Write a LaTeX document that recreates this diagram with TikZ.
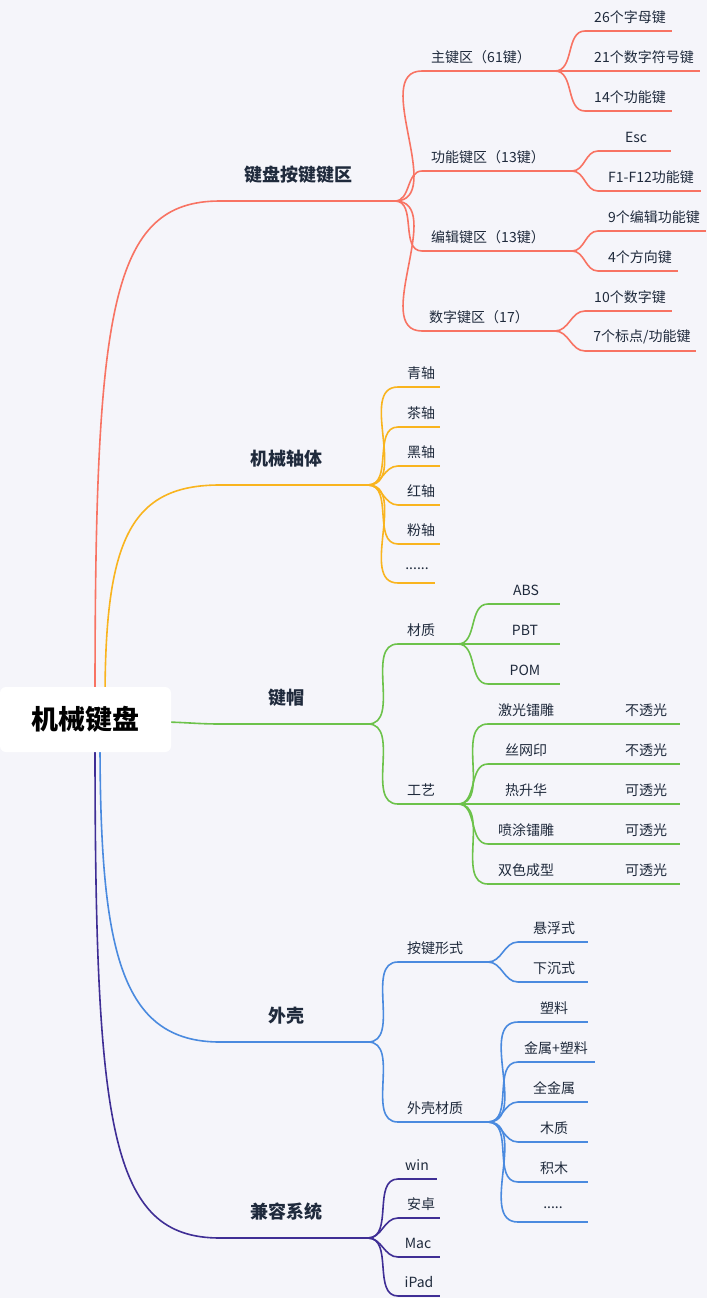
\documentclass[tikz,border=0pt]{standalone}
\usepackage{fontspec}
\setmainfont{Noto Sans CJK SC}
\definecolor{bg}{HTML}{F5F5FA}
\definecolor{cr}{HTML}{F87363}
\definecolor{cy}{HTML}{F9B41E}
\definecolor{cg}{HTML}{6CC24A}
\definecolor{cb}{HTML}{4A8ADF}
\definecolor{cp}{HTML}{3F2E95}
\definecolor{tx}{HTML}{1F2A3C}
\newcommand\nd[7]{\coordinate (#1-s) at (#2,#4); \coordinate (#1-e) at (#3,#4);
 \draw[#7] (#1-s) -- (#1-e); \node[lbl] (#1) at (#5,#4-14) {#6};}
\newcommand\tp[7]{\coordinate (#1-s) at (#2,#4); \coordinate (#1-e) at (#3,#4);
 \draw[#7] (#1-s) -- (#1-e); \node[top] (#1) at (#5,#4-26) {#6};}
\newcommand\cv[3]{\draw[#1] (#2-e) to[out=0,in=180] (#3-s);}
\begin{document}
\begin{tikzpicture}[x=1pt,y=-1pt,line width=1.6pt,
 lbl/.style={font=\fontsize{14}{16}\selectfont,text=tx,inner sep=0pt},
 top/.style={font=\fontsize{18}{20}\selectfont\bfseries,text=tx,inner sep=0pt}]
\fill[bg] (0,0) rectangle (707,1298);
\useasboundingbox (0,0) rectangle (707,1298);
% red
\tp{a}{220}{395}{201}{298}{键盘按键键区}{cr}
\nd{a1}{422}{555}{71}{481}{主键区（61键）}{cr}
\nd{a2}{422}{572}{171}{488}{功能键区（13键）}{cr}
\nd{a3}{422}{572}{251}{488}{编辑键区（13键）}{cr}
\nd{a4}{422}{555}{331}{479}{数字键区（17）}{cr}
\foreach \c in {a1,a2,a3,a4}{\cv{cr}{a}{\c}}
\nd{a11}{585}{672}{31}{630}{26个字母键}{cr}
\nd{a12}{585}{700}{71}{644}{21个数字符号键}{cr}
\nd{a13}{585}{672}{111}{630}{14个功能键}{cr}
\foreach \c in {a11,a12,a13}{\cv{cr}{a1}{\c}}
\nd{a21}{598}{671}{151}{636}{Esc}{cr}
\nd{a22}{598}{701}{191}{651}{F1-F12功能键}{cr}
\foreach \c in {a21,a22}{\cv{cr}{a2}{\c}}
\nd{a31}{598}{706}{231}{654}{9个编辑功能键}{cr}
\nd{a32}{598}{678}{271}{640}{4个方向键}{cr}
\foreach \c in {a31,a32}{\cv{cr}{a3}{\c}}
\nd{a41}{585}{672}{311}{630}{10个数字键}{cr}
\nd{a42}{585}{696}{351}{642}{7个标点/功能键}{cr}
\foreach \c in {a41,a42}{\cv{cr}{a4}{\c}}
% yellow
\tp{b}{220}{368}{485}{286}{机械轴体}{cy}
\nd{b1}{398}{440}{387}{421}{青轴}{cy}
\nd{b2}{398}{440}{427}{421}{茶轴}{cy}
\nd{b3}{398}{440}{466}{421}{黑轴}{cy}
\nd{b4}{398}{440}{505}{421}{红轴}{cy}
\nd{b5}{398}{440}{544}{421}{粉轴}{cy}
\nd{b6}{398}{435}{583}{417}{......}{cy}
\foreach \c in {b1,b2,b3,b4,b5,b6}{\cv{cy}{b}{\c}}
% green
\tp{c}{220}{368}{724}{286}{键帽}{cg}
\nd{c1}{398}{458}{644}{421}{材质}{cg}
\nd{c2}{398}{458}{804}{421}{工艺}{cg}
\foreach \c in {c1,c2}{\cv{cg}{c}{\c}}
\nd{c11}{488}{560}{604}{526}{ABS}{cg}
\nd{c12}{488}{560}{644}{525}{PBT}{cg}
\nd{c13}{488}{560}{684}{525}{POM}{cg}
\foreach \c in {c11,c12,c13}{\cv{cg}{c1}{\c}}
\nd{c21}{488}{560}{724}{526}{激光镭雕}{cg}
\nd{c22}{488}{560}{764}{526}{丝网印}{cg}
\nd{c23}{488}{560}{804}{526}{热升华}{cg}
\nd{c24}{488}{560}{844}{526}{喷涂镭雕}{cg}
\nd{c25}{488}{560}{884}{526}{双色成型}{cg}
\foreach \c in {c21,c22,c23,c24,c25}{\cv{cg}{c2}{\c}}
\nd{d21}{578}{680}{724}{646}{不透光}{cg}
\nd{d22}{578}{680}{764}{646}{不透光}{cg}
\nd{d23}{578}{680}{804}{646}{可透光}{cg}
\nd{d24}{578}{680}{844}{646}{可透光}{cg}
\nd{d25}{578}{680}{884}{646}{可透光}{cg}
\foreach \i in {1,...,5}{\draw[cg] (c2\i-e) -- (d2\i-s);}
% blue
\tp{e}{220}{368}{1042}{286}{外壳}{cb}
\nd{e1}{398}{488}{962}{435}{按键形式}{cb}
\nd{e2}{398}{488}{1122}{435}{外壳材质}{cb}
\foreach \c in {e1,e2}{\cv{cb}{e}{\c}}
\nd{e11}{518}{588}{942}{554}{悬浮式}{cb}
\nd{e12}{518}{588}{982}{554}{下沉式}{cb}
\foreach \c in {e11,e12}{\cv{cb}{e1}{\c}}
\nd{e21}{518}{588}{1022}{554}{塑料}{cb}
\nd{e22}{518}{595}{1062}{556}{金属+塑料}{cb}
\nd{e23}{518}{588}{1102}{554}{全金属}{cb}
\nd{e24}{518}{588}{1142}{554}{木质}{cb}
\nd{e25}{518}{588}{1182}{554}{积木}{cb}
\nd{e26}{518}{588}{1222}{553}{.....}{cb}
\foreach \c in {e21,e22,e23,e24,e25,e26}{\cv{cb}{e2}{\c}}
% purple
\tp{f}{220}{368}{1238}{286}{兼容系统}{cp}
\nd{f1}{398}{437}{1179}{417}{win}{cp}
\nd{f2}{398}{440}{1218}{421}{安卓}{cp}
\nd{f3}{398}{440}{1257}{418}{Mac}{cp}
\nd{f4}{398}{440}{1296}{419}{iPad}{cp}
\foreach \c in {f1,f2,f3,f4}{\cv{cp}{f}{\c}}
% root connectors
\coordinate (r1) at (95,700); \coordinate (r2) at (105,700);
\coordinate (r3) at (160,722); \coordinate (r4) at (100,740); \coordinate (r5) at (95,740);
\draw[cr] (r1) .. controls +(0,-390) and +(-110,0) .. (a-s);
\draw[cy] (r2) .. controls +(0,-160) and +(-90,0) .. (b-s);
\draw[cg] (r3) to[out=0,in=180] (c-s);
\draw[cb] (r4) .. controls +(0,210) and +(-100,0) .. (e-s);
\draw[cp] (r5) .. controls +(0,390) and +(-110,0) .. (f-s);
\node[fill=white,rounded corners=6pt,minimum width=171pt,minimum height=65pt,inner sep=0pt,
 font=\fontsize{27}{30}\selectfont\bfseries] (root) at (85.5,719.5) {机械键盘};
\end{tikzpicture}
\end{document}
